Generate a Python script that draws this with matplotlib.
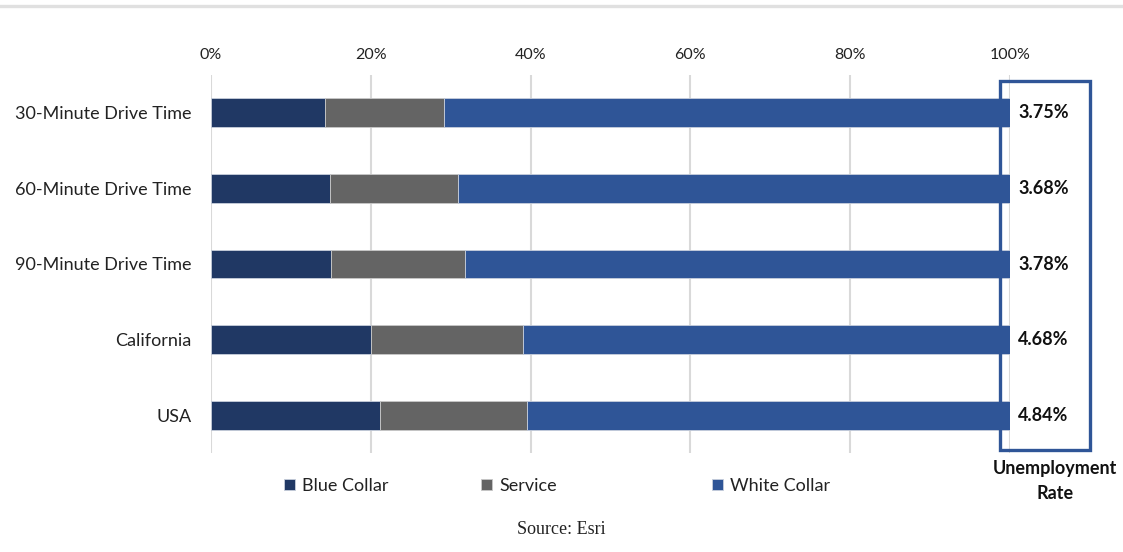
import numpy as np
import matplotlib.pyplot as plt
from matplotlib.patches import Rectangle
from matplotlib.lines import Line2D

areas = ["30-Minute Drive Time", "60-Minute Drive Time", "90-Minute Drive Time",
         "California", "USA"]
blue_collar = np.array([14.3, 14.9, 15.0, 20.0, 21.1])
service = np.array([14.8, 16.0, 16.8, 19.0, 18.4])
white_collar = 100.0 - blue_collar - service
unemployment = ["3.75%", "3.68%", "3.78%", "4.68%", "4.84%"]

c_blue = "#203864"
c_serv = "#646464"
c_white = "#2f5597"

plt.rcParams['font.family'] = ['Lato', 'DejaVu Sans']

fig = plt.figure(figsize=(11.23, 5.52), dpi=100)
ax = fig.add_axes([211/1123, 99/552, 799/1123, 378/552])

y = np.arange(len(areas))
h = 0.38
b1 = ax.barh(y, blue_collar, height=h, color=c_blue, edgecolor="#c8cfdc", lw=0.6,
             label="Blue Collar", zorder=3)
b2 = ax.barh(y, service, left=blue_collar, height=h, color=c_serv, edgecolor="#c8c8c8", lw=0.6,
             label="Service", zorder=3)
b3 = ax.barh(y, white_collar, left=blue_collar + service, height=h, color=c_white,
             edgecolor="#c8cfdc", lw=0.6, label="White Collar", zorder=3)

ax.set_xlim(0, 100)
ax.set_ylim(4.5, -0.5)
ax.set_xticks(np.arange(0, 101, 20))
ax.set_xticklabels([f"{v}%" for v in range(0, 101, 20)], fontsize=11.5, color="#222222")
ax.xaxis.tick_top()
ax.tick_params(axis="x", length=0, pad=9)
ax.set_yticks(y)
ax.set_yticklabels(areas, fontsize=13, color="#222222")
ax.tick_params(axis="y", length=0, pad=14)
ax.grid(axis="x", color="#d9d9d9", lw=1.5, zorder=0)
for s in ax.spines.values():
    s.set_visible(False)

# unemployment rate column
for i, lab in enumerate(unemployment):
    ax.text(104.2, i, lab, ha="center", va="center", fontsize=13, fontweight="bold",
            color="#111111", clip_on=False)
ax.add_patch(Rectangle((98.75, -0.425), 11.25, 4.885, fill=False, ec=c_white, lw=2.4,
                       clip_on=False, zorder=4))
fig.text(1055/1123, 1 - 481/552, "Unemployment\nRate", ha="center", va="center",
         fontsize=13, fontweight="bold", color="#111111", linespacing=1.55)

# legend entries spread out along the bottom, one legend each
for bars, x0 in zip([b1, b2, b3], [268, 465, 696]):
    leg = fig.legend([bars], [bars.get_label()], loc="center left",
                     bbox_to_anchor=(x0/1123, 1 - 486/552), frameon=False, fontsize=13,
                     handlelength=0.6, handleheight=0.6, handletextpad=0.4)
    for t in leg.get_texts():
        t.set_color("#222222")

fig.text(561/1123, 1 - 530/552, "Source: Esri", ha="center", va="center", fontsize=13,
         family="Liberation Serif", color="#222222")

# thin rule across the top
fig.add_artist(Line2D([0, 1], [1 - 5.5/552, 1 - 5.5/552], transform=fig.transFigure,
                      color="#e0e0e0", lw=2.4))

fig.savefig("out.png", dpi=100)
